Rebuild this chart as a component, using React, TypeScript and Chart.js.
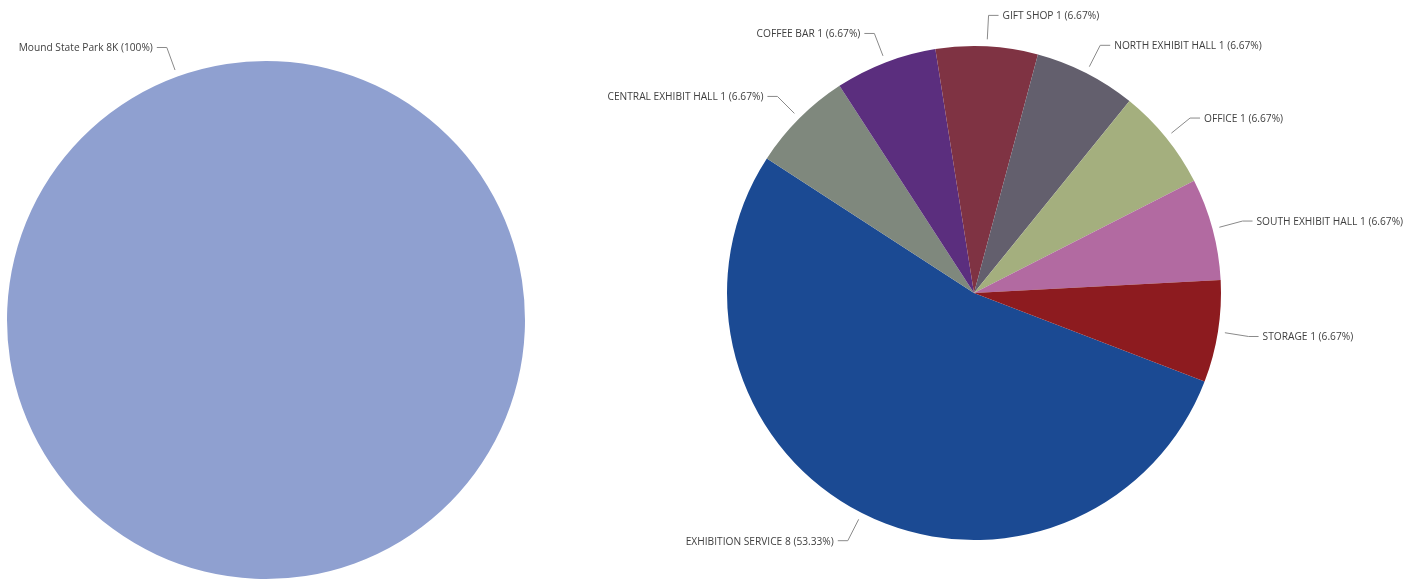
import React, { useEffect, useRef } from "react";
import { Chart, registerables } from "chart.js";

Chart.register(...registerables);

const leftLabels = ["Mound State Park"];
const leftValues = [8];
const leftColors = ["#8FA0D0"];

const rightLabels = [
  "EXHIBITION SERVICE",
  "CENTRAL EXHIBIT HALL",
  "COFFEE BAR",
  "GIFT SHOP",
  "NORTH EXHIBIT HALL",
  "OFFICE",
  "SOUTH EXHIBIT HALL",
  "STORAGE",
];
const rightValues = [8, 1, 1, 1, 1, 1, 1, 1];
const rightColors = [
  "#1B4A93",
  "#7F887D",
  "#5B2E7E",
  "#7F3343",
  "#635F6D",
  "#A4AF7E",
  "#B26AA1",
  "#8D1B1F",
];

const FONT = '10.2px "Open Sans", sans-serif';

const leaderLabels = {
  id: "leaderLabels",
  afterDraw(chart: any) {
    const ctx = chart.ctx;
    const meta = chart.getDatasetMeta(0);
    const values: number[] = chart.data.datasets[0].data;
    const total = values.reduce((a, b) => a + b, 0);
    const unit = chart.options.plugins.leaderLabels.unit;
    ctx.save();
    ctx.font = FONT;
    ctx.textBaseline = "middle";
    meta.data.forEach((arc: any, i: number) => {
      const p = arc.getProps(["x", "y", "startAngle", "endAngle", "outerRadius"], true);
      const mid = (p.startAngle + p.endAngle) / 2;
      const c = Math.cos(mid);
      const s = Math.sin(mid);
      const r = p.outerRadius;
      const x1 = p.x + (r + 7) * c;
      const y1 = p.y + (r + 7) * s;
      const x2 = p.x + (r + 31) * c;
      const y2 = p.y + (r + 31) * s;
      const dir = c >= 0 ? 1 : -1;
      const x3 = x2 + dir * 10;
      ctx.strokeStyle = "#8a8a8a";
      ctx.lineWidth = 1;
      ctx.beginPath();
      ctx.moveTo(x1, y1);
      ctx.lineTo(x2, y2);
      ctx.lineTo(x3, y2);
      ctx.stroke();
      const pct = (values[i] / total) * 100;
      const pctStr = Math.abs(pct - Math.round(pct)) < 1e-9 ? String(Math.round(pct)) : pct.toFixed(2);
      const text = `${chart.data.labels[i]} ${values[i]}${unit} (${pctStr}%)`;
      ctx.fillStyle = "#3f3f3f";
      ctx.textAlign = dir > 0 ? "left" : "right";
      ctx.fillText(text, x3 + dir * 4, y2 + 1);
    });
    ctx.restore();
  },
};

function PieCanvas(props: {
  labels: string[];
  values: number[];
  colors: string[];
  width: number;
  height: number;
  left: number;
  padding: { left: number; right: number; top: number; bottom: number };
  rotation: number;
  unit: string;
}) {
  const ref = useRef<HTMLCanvasElement | null>(null);
  useEffect(() => {
    if (!ref.current) return;
    const chart = new Chart(ref.current, {
      type: "pie",
      data: {
        labels: props.labels,
        datasets: [
          {
            data: props.values,
            backgroundColor: props.colors,
            borderWidth: 0,
          },
        ],
      },
      options: {
        responsive: false,
        animation: false,
        rotation: props.rotation,
        layout: { padding: props.padding },
        plugins: {
          legend: { display: false },
          tooltip: { enabled: false },
          leaderLabels: { unit: props.unit },
        } as any,
      },
      plugins: [leaderLabels],
    });
    return () => chart.destroy();
  }, []);
  return (
    <canvas
      ref={ref}
      width={props.width}
      height={props.height}
      style={{
        position: "absolute",
        left: props.left,
        top: 0,
        width: props.width,
        height: props.height,
      }}
    />
  );
}

export default function App() {
  return (
    <div
      style={{
        position: "fixed",
        left: 0,
        top: 0,
        width: 1420,
        height: 582,
        background: "#ffffff",
        overflow: "hidden",
      }}
    >
      <PieCanvas
        labels={leftLabels}
        values={leftValues}
        colors={leftColors}
        width={600}
        height={582}
        left={0}
        padding={{ left: 7, right: 75, top: 61, bottom: 3 }}
        rotation={160}
        unit="K"
      />
      <PieCanvas
        labels={rightLabels}
        values={rightValues}
        colors={rightColors}
        width={820}
        height={582}
        left={600}
        padding={{ left: 127, right: 199, top: 46, bottom: 42 }}
        rotation={111}
        unit=""
      />
    </div>
  );
}
